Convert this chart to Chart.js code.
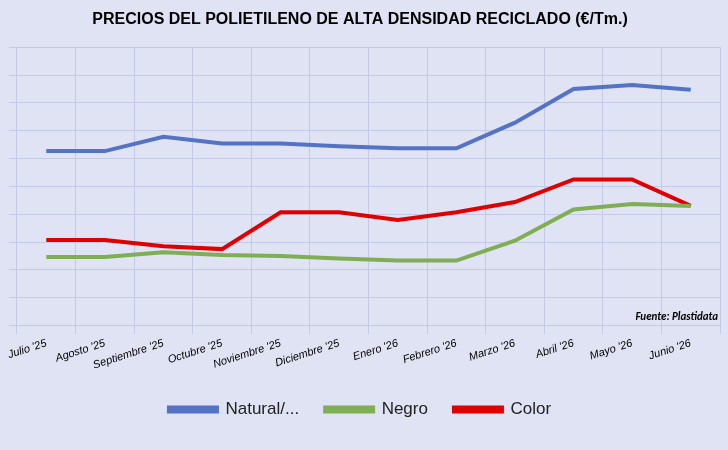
<!DOCTYPE html>
<html><head><meta charset="utf-8">
<script src="https://cdn.jsdelivr.net/npm/chart.js@4"></script>
<style>
body{margin:0;background:#fff}
#wrap{width:728px;height:450px;background:#dfe3f4}
</style></head><body>
<div id="wrap"><canvas id="c" width="728" height="450"></canvas></div>
<script>
const months = ["Julio '25","Agosto '25","Septiembre '25","Octubre '25","Noviembre '25","Diciembre '25","Enero '26","Febrero '26","Marzo '26","Abril '26","Mayo '26","Junio '26"];
const natural = [6.27,6.27,6.78,6.54,6.54,6.44,6.37,6.37,7.29,8.5,8.64,8.47];
const negro = [2.47,2.47,2.64,2.54,2.5,2.41,2.34,2.34,3.05,4.17,4.37,4.3];
const color = [3.08,3.08,2.85,2.75,4.07,4.07,3.8,4.07,4.44,5.25,5.25,4.3];

const fuente = {
  id: 'fuente',
  afterDraw(chart) {
    const { ctx, chartArea } = chart;
    ctx.save();
    ctx.font = 'italic bold 11px Calibri, Carlito, "Liberation Sans", sans-serif';
    ctx.fillStyle = '#000';
    ctx.textAlign = 'right';
    ctx.fillText('Fuente: Plastidata', chartArea.right - 2, chartArea.bottom - 8);
    ctx.restore();
  }
};

new Chart(document.getElementById('c'), {
  type: 'line',
  data: {
    labels: months,
    datasets: [
      { label: 'Natural/...', data: natural, borderColor: '#5573c4', backgroundColor: '#5573c4', borderWidth: 4 },
      { label: 'Negro', data: negro, borderColor: '#7fae55', backgroundColor: '#7fae55', borderWidth: 4 },
      { label: 'Color', data: color, borderColor: '#e00000', backgroundColor: '#e00000', borderWidth: 4 }
    ]
  },
  options: {
    responsive: false,
    animation: false,
    layout: { padding: { left: 0, right: 8, top: 4, bottom: 22 } },
    elements: { point: { radius: 0 }, line: { tension: 0 } },
    plugins: {
      title: {
        display: true,
        text: 'PRECIOS DEL POLIETILENO DE ALTA DENSIDAD RECICLADO (€/Tm.)',
        color: '#000',
        font: { family: '"Liberation Sans", sans-serif', size: 16, weight: 'bold' },
        padding: { top: 6, bottom: 18 }
      },
      legend: {
        position: 'bottom',
        labels: {
          color: '#222',
          font: { family: '"Liberation Sans", sans-serif', size: 17 },
          boxWidth: 48, boxHeight: 4, padding: 26
        }
      }
    },
    scales: {
      x: {
        offset: true,
        grid: { color: '#c3c9e6', offset: true },
        border: { color: '#c3c9e6' },
        ticks: {
          color: '#000', maxRotation: 18, minRotation: 18, autoSkip: false,
          font: { family: '"Liberation Sans", sans-serif', size: 11, style: 'italic' }
        }
      },
      y: {
        min: 0, max: 10,
        grid: { color: '#c3c9e6' },
        border: { display: false },
        ticks: { display: false, stepSize: 1 },
        afterFit(s) { s.width = 17; }
      }
    }
  },
  plugins: [fuente]
});
</script>
</body></html>
